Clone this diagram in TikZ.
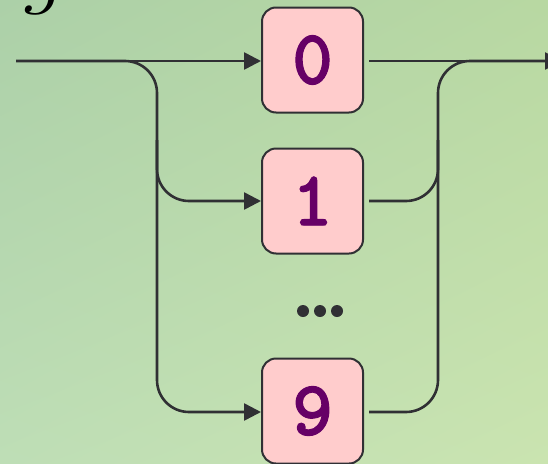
\documentclass[tikz,border=0pt]{standalone}
\usepackage{fontspec}
\newfontfamily\digitfont{lmmonolt10-bold}[Extension=.otf, FakeBold=1.2]
\usetikzlibrary{arrows.meta,shadings}
\definecolor{bgTL}{RGB}{172,208,168}
\definecolor{bgTR}{RGB}{184,216,162}
\definecolor{bgBL}{RGB}{190,222,182}
\definecolor{bgBR}{RGB}{202,228,176}
\definecolor{boxfill}{RGB}{255,204,204}
\definecolor{lineclr}{RGB}{48,48,52}
\definecolor{digitclr}{RGB}{102,0,102}
\tikzset{
  digitbox/.style={draw=lineclr, line width=2pt, fill=boxfill, rounded corners=14pt,
    minimum width=101pt, minimum height=105pt, inner sep=0pt,
    font=\digitfont\fontsize{78}{78}\selectfont, text=digitclr},
  wire/.style={draw=lineclr, line width=2.6pt, rounded corners=32pt},
  arrowwire/.style={wire, -{Triangle[length=17pt,width=17pt]}},
  outwire/.style={wire, shorten <=5pt},
  dotmark/.style={circle, fill=lineclr, inner sep=0pt, minimum size=12pt}
}
\begin{document}
\begin{tikzpicture}[x=1pt,y=-1pt]
\useasboundingbox (0,0) rectangle (548,463);
\clip (0,0) rectangle (548,463);
\shade[upper left=bgTL, upper right=bgTR, lower left=bgBL, lower right=bgBR] (0,0) rectangle (548,463);
\node[anchor=base west, inner sep=0pt, font=\fontsize{92}{92}\selectfont\itshape] (g) at (20,-3) {g};
\node[digitbox] (b0) at (312.5,60) {0};
\node[digitbox] (b1) at (312.5,201) {1};
\node[digitbox] (b9) at (312.5,411) {9};
\node[inner sep=0pt, minimum width=50pt, minimum height=12pt] (dots) at (320,311) {};
\node[dotmark] (d1) at (dots.center) {};
\node[dotmark] (d0) at ([xshift=-17pt]d1.center) {};
\node[dotmark] (d2) at ([xshift=17pt]d1.center) {};
% left side
\coordinate (in) at (16,61);
\coordinate (lt) at (157,61);
\coordinate (lm) at (157,140);
\coordinate (lb) at (157,412);
\draw[arrowwire, rounded corners=0pt] (in) -- (b0.west |- in);
\draw[arrowwire] (in) -- (lt) -- (lb) -- (b9.west |- lb);
\draw[arrowwire] (lm) -- (lm |- b1.west) -- (b1.west);
% right side
\coordinate (out) at (562,61);
\coordinate (rt) at (438,61);
\coordinate (rm) at (438,140);
\coordinate (rb) at (438,412);
\draw[arrowwire, shorten <=5pt, rounded corners=0pt] (b0.east |- out) -- (out);
\draw[outwire] (b9.east |- rb) -- (rb) -- (rt) -- (out);
\draw[outwire] (b1.east) -- (rm |- b1.east) -- (rm);
\end{tikzpicture}
\end{document}
